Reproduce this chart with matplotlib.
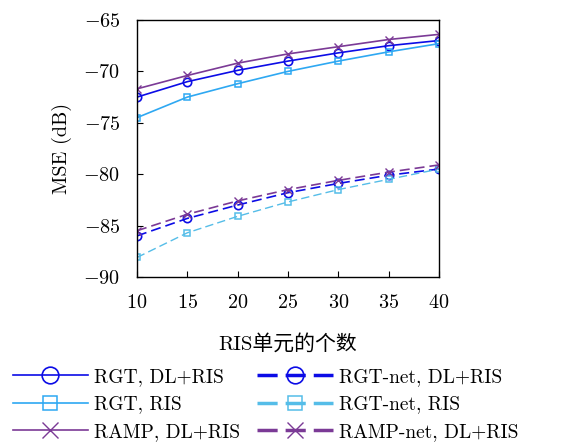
import matplotlib
matplotlib.use("Agg")
import matplotlib.pyplot as plt

plt.rcParams['font.family'] = ['cmr10', 'Noto Sans CJK SC']
plt.rcParams['mathtext.fontset'] = 'cm'
plt.rcParams['axes.formatter.use_mathtext'] = True
plt.rcParams['axes.unicode_minus'] = True

# number of RIS elements
n_elem = [10, 15, 20, 25, 30, 35, 40]

# MSE in dB
rgt_dlris = [-72.5, -71.0, -69.9, -69.0, -68.2, -67.5, -67.0]
rgt_ris = [-74.5, -72.5, -71.2, -70.0, -69.0, -68.1, -67.3]
ramp_dlris = [-71.7, -70.4, -69.2, -68.3, -67.6, -66.9, -66.4]
rgtnet_dlris = [-86.0, -84.3, -83.0, -81.8, -80.9, -80.1, -79.5]
rgtnet_ris = [-88.1, -85.7, -84.1, -82.7, -81.5, -80.5, -79.5]
rampnet_dlris = [-85.5, -83.9, -82.6, -81.5, -80.6, -79.8, -79.1]

labels = ['RGT, DL+RIS', 'RGT, RIS', 'RAMP, DL+RIS',
          'RGT-net, DL+RIS', 'RGT-net, RIS', 'RAMP-net, DL+RIS']

c_blue = '#0c0ce6'
c_lblue = '#2ea8f2'
c_purple = '#7b3a96'
c_lblue2 = '#55bde8'

fig = plt.figure(figsize=(5.67, 4.42), dpi=100)
ax = fig.add_axes([0.2416, 0.3733, 0.5326, 0.5815])

lw = 1.2
ms = 6
h1, = ax.plot(n_elem, rgt_dlris, '-', color=c_blue, lw=lw, marker='o', ms=ms, mfc='none', mew=1.2)
h2, = ax.plot(n_elem, rgt_ris, '-', color=c_lblue, lw=lw, marker='s', ms=5, mfc='none', mew=1.1)
h3, = ax.plot(n_elem, ramp_dlris, '-', color=c_purple, lw=lw, marker='x', ms=ms, mew=1.0)
h4, = ax.plot(n_elem, rgtnet_dlris, '--', color=c_blue, lw=lw, marker='o', ms=ms, mfc='none', mew=1.2, dashes=(6, 3))
h5, = ax.plot(n_elem, rgtnet_ris, '--', color=c_lblue2, lw=1.0, marker='s', ms=5, mfc='none', mew=1.1, dashes=(6, 3))
h6, = ax.plot(n_elem, rampnet_dlris, '--', color=c_purple, lw=lw, marker='x', ms=ms, mew=1.0, dashes=(6, 3))

ax.set_xlim(10, 40)
ax.set_ylim(-90, -65)
ax.set_xticks(n_elem)
ax.set_yticks([-90, -85, -80, -75, -70, -65])
ax.tick_params(direction='in', labelsize=14.5, length=4, width=0.8)
ax.tick_params(axis='y', pad=12)
ax.tick_params(axis='x', pad=12)
for s in ax.spines.values():
    s.set_linewidth(1.0)
ax.set_ylabel('MSE (dB)', fontsize=14.5, labelpad=8)
ax.set_xlabel('RIS单元的个数', fontsize=15, labelpad=16)

leg = fig.legend([h1, h2, h3, h4, h5, h6], labels, ncol=2, loc='upper left',
                 bbox_to_anchor=(0.005, 0.19), frameon=False, fontsize=14,
                 handlelength=3.9, handletextpad=0.3, columnspacing=0.85,
                 labelspacing=0.5, markerscale=2, borderaxespad=0.1)
for i, line in enumerate(leg.get_lines()):
    if i >= 3:
        line.set_linewidth(2.5)
        line.set_dashes((5.8, 2.3))

fig.savefig('out.png', dpi=100)
